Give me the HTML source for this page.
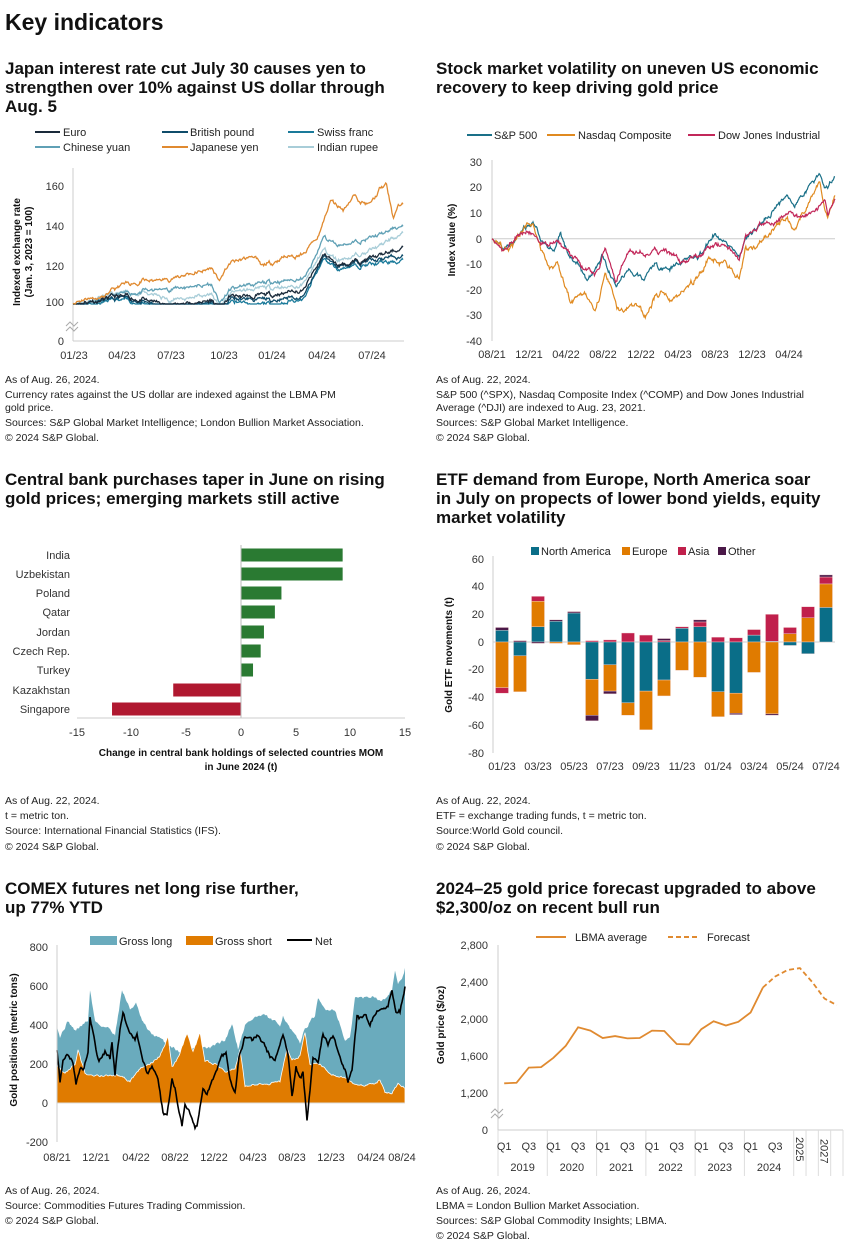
<!DOCTYPE html>
<html><head><meta charset="utf-8">
<style>
html,body{margin:0;padding:0;background:#fff;}
svg{display:block;font-family:"Liberation Sans",Arial,sans-serif;}
.t{font-size:17px;fill:#111;font-weight:600;}
.f{font-size:10.5px;fill:#222;}
.k{font-size:11px;fill:#333;}
.l{font-size:11px;fill:#222;}
.a{font-size:10px;fill:#111;font-weight:bold;}
</style></head><body>
<svg id="s" width="850" height="1254" viewBox="0 0 850 1254" xmlns="http://www.w3.org/2000/svg">
<text x="5" y="30" style="font-size:23px;font-weight:600;fill:#111">Key indicators</text>

<!-- Titles -->
<text class="t" x="5" y="74">Japan interest rate cut July 30 causes yen to</text>
<text class="t" x="5" y="93">strengthen over 10% against US dollar through</text>
<text class="t" x="5" y="112">Aug. 5</text>
<text class="t" x="436" y="74">Stock market volatility on uneven US economic</text>
<text class="t" x="436" y="93">recovery to keep driving gold price</text>
<text class="t" x="5" y="485">Central bank purchases taper in June on rising</text>
<text class="t" x="5" y="504">gold prices; emerging markets still active</text>
<text class="t" x="436" y="485">ETF demand from Europe, North America soar</text>
<text class="t" x="436" y="504">in July on propects of lower bond yields, equity</text>
<text class="t" x="436" y="523">market volatility</text>
<text class="t" x="5" y="894">COMEX futures net long rise further,</text>
<text class="t" x="5" y="913">up 77% YTD</text>
<text class="t" x="436" y="894">2024–25 gold price forecast upgraded to above</text>
<text class="t" x="436" y="913">$2,300/oz on recent bull run</text>

<!-- Footnotes -->
<g class="f">
<text x="5" y="383">As of Aug. 26, 2024.</text>
<text x="5" y="398">Currency rates against the US dollar are indexed against the LBMA PM</text>
<text x="5" y="411">gold price.</text>
<text x="5" y="426">Sources: S&amp;P Global Market Intelligence; London Bullion Market Association.</text>
<text x="5" y="441">© 2024 S&amp;P Global.</text>
<text x="436" y="383">As of Aug. 22, 2024.</text>
<text x="436" y="398">S&amp;P 500 (^SPX), Nasdaq Composite Index (^COMP) and Dow Jones Industrial</text>
<text x="436" y="411">Average (^DJI) are indexed to Aug. 23, 2021.</text>
<text x="436" y="426">Sources: S&amp;P Global Market Intelligence.</text>
<text x="436" y="441">© 2024 S&amp;P Global.</text>
<text x="5" y="804">As of Aug. 22, 2024.</text>
<text x="5" y="819">t = metric ton.</text>
<text x="5" y="834">Source: International Financial Statistics (IFS).</text>
<text x="5" y="850">© 2024 S&amp;P Global.</text>
<text x="436" y="804">As of Aug. 22, 2024.</text>
<text x="436" y="819">ETF = exchange trading funds, t = metric ton.</text>
<text x="436" y="834">Source:World Gold council.</text>
<text x="436" y="850">© 2024 S&amp;P Global.</text>
<text x="5" y="1194">As of Aug. 26, 2024.</text>
<text x="5" y="1209">Source: Commodities Futures Trading Commission.</text>
<text x="5" y="1224">© 2024 S&amp;P Global.</text>
<text x="436" y="1194">As of Aug. 26, 2024.</text>
<text x="436" y="1209">LBMA = London Bullion Market Association.</text>
<text x="436" y="1224">Sources: S&amp;P Global Commodity Insights; LBMA.</text>
<text x="436" y="1239">© 2024 S&amp;P Global.</text>
</g>

<!-- Panel 1 -->
<g class="l">
<line x1="35" y1="132" x2="60" y2="132" stroke="#1a2a3a" stroke-width="2"/><text x="63" y="136">Euro</text>
<line x1="162" y1="132" x2="188" y2="132" stroke="#0f4c6a" stroke-width="2"/><text x="190" y="136">British pound</text>
<line x1="288" y1="132" x2="314" y2="132" stroke="#1a7a9a" stroke-width="2"/><text x="317" y="136">Swiss franc</text>
<line x1="35" y1="147" x2="60" y2="147" stroke="#5fa0b5" stroke-width="2"/><text x="63" y="151">Chinese yuan</text>
<line x1="162" y1="147" x2="188" y2="147" stroke="#e08a30" stroke-width="2"/><text x="190" y="151">Japanese yen</text>
<line x1="288" y1="147" x2="314" y2="147" stroke="#a8cdd8" stroke-width="2"/><text x="317" y="151">Indian rupee</text>
</g>
<line x1="73" y1="168" x2="73" y2="341" stroke="#ccc"/>
<line x1="73" y1="341" x2="404" y2="341" stroke="#ccc"/>
<g class="k" text-anchor="end">
<text x="64" y="190">160</text><text x="64" y="230">140</text><text x="64" y="270">120</text><text x="64" y="306">100</text><text x="64" y="345">0</text>
</g>
<path d="M66 326 l4 -4 l4 4 l4 -4 M66 331 l4 -4 l4 4 l4 -4" stroke="#aaa" fill="none"/>
<g class="k" text-anchor="middle">
<text x="74" y="359">01/23</text><text x="122" y="359">04/23</text><text x="171" y="359">07/23</text><text x="224" y="359">10/23</text><text x="272" y="359">01/24</text><text x="322" y="359">04/24</text><text x="372" y="359">07/24</text>
</g>
<text class="a" transform="translate(20,252) rotate(-90)" text-anchor="middle">Indexed exchange rate</text>
<text class="a" transform="translate(32,252) rotate(-90)" text-anchor="middle">(Jan. 3, 2023 = 100)</text>
<g id="p1"></g>

<!-- Panel 2 -->
<g class="l">
<line x1="467" y1="135" x2="492" y2="135" stroke="#1a7088" stroke-width="2"/><text x="494" y="139">S&amp;P 500</text>
<line x1="547" y1="135" x2="575" y2="135" stroke="#e08a20" stroke-width="2"/><text x="578" y="139">Nasdaq Composite</text>
<line x1="688" y1="135" x2="715" y2="135" stroke="#c2285a" stroke-width="2"/><text x="718" y="139">Dow Jones Industrial</text>
</g>
<line x1="492" y1="160" x2="492" y2="341" stroke="#ccc"/>
<line x1="492" y1="238.7" x2="835" y2="238.7" stroke="#ccc"/>
<g class="k" text-anchor="end">
<text x="482" y="166">30</text><text x="482" y="191">20</text><text x="482" y="217">10</text><text x="482" y="243">0</text><text x="482" y="268">-10</text><text x="482" y="294">-20</text><text x="482" y="319">-30</text><text x="482" y="345">-40</text>
</g>
<g class="k" text-anchor="middle">
<text x="492" y="358">08/21</text><text x="529" y="358">12/21</text><text x="566" y="358">04/22</text><text x="603" y="358">08/22</text><text x="641" y="358">12/22</text><text x="678" y="358">04/23</text><text x="715" y="358">08/23</text><text x="752" y="358">12/23</text><text x="789" y="358">04/24</text>
</g>
<text class="a" transform="translate(455,240) rotate(-90)" text-anchor="middle">Index value (%)</text>
<g id="p2"></g>

<!-- Panel 3 -->
<g id="p3"></g>
<line x1="241" y1="545" x2="241" y2="718" stroke="#bbb"/>
<line x1="77" y1="718" x2="405" y2="718" stroke="#ccc"/>
<g class="k" text-anchor="end">
<text x="70" y="559">India</text><text x="70" y="578">Uzbekistan</text><text x="70" y="597">Poland</text><text x="70" y="616">Qatar</text><text x="70" y="636">Jordan</text><text x="70" y="655">Czech Rep.</text><text x="70" y="674">Turkey</text><text x="70" y="694">Kazakhstan</text><text x="70" y="713">Singapore</text>
</g>
<g class="k" text-anchor="middle">
<text x="77" y="736">-15</text><text x="131" y="736">-10</text><text x="186" y="736">-5</text><text x="241" y="736">0</text><text x="296" y="736">5</text><text x="350" y="736">10</text><text x="405" y="736">15</text>
</g>
<text class="a" x="241" y="756" text-anchor="middle">Change in central bank holdings of selected countries MOM</text>
<text class="a" x="241" y="770" text-anchor="middle">in June 2024 (t)</text>

<!-- Panel 4 -->
<g class="l">
<rect x="531" y="547" width="8" height="8" fill="#0a6e88"/><text x="541" y="555">North America</text>
<rect x="622" y="547" width="8" height="8" fill="#e07b00"/><text x="632" y="555">Europe</text>
<rect x="678" y="547" width="8" height="8" fill="#c0204c"/><text x="688" y="555">Asia</text>
<rect x="718" y="547" width="8" height="8" fill="#4a1848"/><text x="728" y="555">Other</text>
</g>
<line x1="493" y1="556" x2="493" y2="753" stroke="#ccc"/>
<line x1="493" y1="642" x2="835" y2="642" stroke="#ccc"/>
<g class="k" text-anchor="end">
<text x="484" y="563">60</text><text x="484" y="590">40</text><text x="484" y="618">20</text><text x="484" y="646">0</text><text x="484" y="673">-20</text><text x="484" y="701">-40</text><text x="484" y="729">-60</text><text x="484" y="757">-80</text>
</g>
<g id="p4"></g>
<text class="a" transform="translate(452,655) rotate(-90)" text-anchor="middle">Gold ETF movements (t)</text>

<!-- Panel 5 -->
<g class="l">
<rect x="90" y="936" width="27" height="9" fill="#6aabbd"/><text x="119" y="945">Gross long</text>
<rect x="186" y="936" width="27" height="9" fill="#e07b00"/><text x="215" y="945">Gross short</text>
<line x1="287" y1="940" x2="312" y2="940" stroke="#000" stroke-width="2"/><text x="315" y="945">Net</text>
</g>
<g id="p5"></g>
<line x1="57" y1="945" x2="57" y2="1142" stroke="#ccc"/>
<g class="k" text-anchor="end">
<text x="48" y="951">800</text><text x="48" y="990">600</text><text x="48" y="1029">400</text><text x="48" y="1068">200</text><text x="48" y="1107">0</text><text x="48" y="1146">-200</text>
</g>
<g class="k" text-anchor="middle">
<text x="57" y="1161">08/21</text><text x="96" y="1161">12/21</text><text x="136" y="1161">04/22</text><text x="175" y="1161">08/22</text><text x="214" y="1161">12/22</text><text x="253" y="1161">04/23</text><text x="292" y="1161">08/23</text><text x="331" y="1161">12/23</text><text x="371" y="1161">04/24</text><text x="402" y="1161">08/24</text>
</g>
<text class="a" transform="translate(17,1040) rotate(-90)" text-anchor="middle">Gold positions (metric tons)</text>

<!-- Panel 6 -->
<g class="l">
<line x1="536" y1="937" x2="566" y2="937" stroke="#e08a30" stroke-width="2"/><text x="575" y="941">LBMA average</text>
<line x1="668" y1="937" x2="700" y2="937" stroke="#e08a30" stroke-width="2" stroke-dasharray="5,3"/><text x="707" y="941">Forecast</text>
</g>
<line x1="498" y1="945" x2="498" y2="1130" stroke="#ccc"/>
<line x1="498" y1="1130" x2="843" y2="1130" stroke="#ccc"/>
<path d="M491 1113 l4 -4 l4 4 l4 -4 M491 1118 l4 -4 l4 4 l4 -4" stroke="#aaa" fill="none"/>
<g class="k" text-anchor="end">
<text x="488" y="949">2,800</text><text x="488" y="986">2,400</text><text x="488" y="1023">2,000</text><text x="488" y="1060">1,600</text><text x="488" y="1097">1,200</text><text x="488" y="1134">0</text>
</g>
<g id="p6"></g>
<text class="a" transform="translate(444,1025) rotate(-90)" text-anchor="middle">Gold price ($/oz)</text>
</svg>
<script>
var NS="http://www.w3.org/2000/svg";
function el(g,tag,at,txt){var e=document.createElementNS(NS,tag);for(var k in at)e.setAttribute(k,at[k]);if(txt!==undefined)e.textContent=txt;document.getElementById(g).appendChild(e);return e;}
function rng(s){return function(){s=(s*16807)%2147483647;return (s-1)/2147483646;}}
function interp(kp,t){if(t<=kp[0][0])return kp[0][1];for(var i=1;i<kp.length;i++){if(t<=kp[i][0]){var a=kp[i-1],b=kp[i];return a[1]+(b[1]-a[1])*(t-a[0])/(b[0]-a[0]);}}return kp[kp.length-1][1];}
function noise(n,amp,seed,dec){var r=rng(seed),e=0,o=[];for(var i=0;i<n;i++){e=dec*e+(r()-0.5)*amp;o.push(e);}return o;}
function pathFrom(xs,ys){var d="";for(var i=0;i<xs.length;i++)d+=(i?"L":"M")+xs[i].toFixed(1)+" "+ys[i].toFixed(1);return d;}

// Panel 1
(function(){
var x0=73,x1=403,N=420,com=noise(N,2.2,11,0.8);
var ym=function(v){return v>=100?304-(v-100)*1.97:304;};
var S=[
["#a8cdd8",5,[[0,100],[0.15,106],[0.25,104],[0.3,102],[0.42,105],[0.445,98],[0.48,106],[0.6,108],[0.7,110],[0.76,128],[0.8,122],[0.9,127],[1,136]]],
["#5fa0b5",6,[[0,100],[0.1,103],[0.15,105],[0.3,108],[0.42,110],[0.445,100],[0.48,108],[0.55,110],[0.7,113],[0.72,118],[0.76,134],[0.8,130],[0.9,133],[0.97,138],[1,139]]],
["#1a7a9a",7,[[0,99],[0.15,102],[0.3,96],[0.42,100],[0.445,95],[0.48,101],[0.6,99],[0.7,103],[0.76,123],[0.8,118],[0.9,120],[1,122]]],
["#0f4c6a",8,[[0,100],[0.15,103],[0.3,97],[0.42,101],[0.445,96],[0.48,103],[0.6,102],[0.7,104],[0.76,124],[0.8,119],[0.9,122],[1,124]]],
["#1a2a3a",9,[[0,100],[0.15,104],[0.3,99],[0.42,102],[0.445,97],[0.48,104],[0.55,104],[0.7,107],[0.76,125],[0.8,120],[0.9,123],[1,128]]],
["#e08a30",10,[[0,101],[0.1,104],[0.15,110],[0.3,113],[0.42,118],[0.445,112],[0.48,122],[0.55,124],[0.57,119],[0.65,124],[0.7,125],[0.72,130],[0.74,133],[0.76,142],[0.78,152],[0.82,148],[0.85,155],[0.9,150],[0.93,158],[0.95,160],[0.96,152],[0.97,143],[0.985,151],[1,150]]]];
S.forEach(function(s){var nz=noise(N,1.5,s[1]*7+3,0.75),xs=[],ys=[];for(var i=0;i<N;i++){var t=i/(N-1);xs.push(x0+t*(x1-x0));ys.push(ym(interp(s[2],t)+com[i]*0.6+nz[i]*0.5));}
el("p1","path",{d:pathFrom(xs,ys),fill:"none",stroke:s[0],"stroke-width":1.3});});
})();

// Panel 2
(function(){
var x0=492,x1=835,N=520,com=noise(N,2,21,0.85);
var ym=function(v){return 238.7-v*2.557;};
var S=[
["#1a7088",3,[[0,0],[0.03,-3],[0.06,-2],[0.1,5],[0.12,6],[0.14,0],[0.18,-5],[0.2,2],[0.22,-5],[0.26,-12],[0.28,-16],[0.3,-12],[0.32,-7],[0.36,-19],[0.4,-12],[0.44,-15],[0.48,-10],[0.52,-12],[0.56,-8],[0.6,-7],[0.63,-2],[0.65,2],[0.68,-2],[0.7,-3],[0.72,-7],[0.74,0],[0.78,5],[0.82,12],[0.86,17],[0.88,12],[0.92,20],[0.955,25],[0.97,18],[1,25]]],
["#e08a20",4,[[0,0],[0.03,-3],[0.06,-3],[0.1,6],[0.12,5],[0.14,-3],[0.17,-12],[0.19,-10],[0.23,-25],[0.27,-20],[0.3,-28],[0.33,-14],[0.37,-28],[0.42,-25],[0.45,-30],[0.49,-20],[0.52,-24],[0.56,-20],[0.6,-15],[0.63,-7],[0.68,-10],[0.72,-15],[0.74,-5],[0.78,-2],[0.82,5],[0.86,8],[0.88,3],[0.92,13],[0.955,23],[0.97,10],[0.98,8],[1,19]]],
["#c2285a",5,[[0,0],[0.03,-4],[0.06,-1],[0.1,3],[0.12,2],[0.14,-2],[0.2,-2],[0.26,-10],[0.3,-14],[0.33,-5],[0.36,-17],[0.4,-4],[0.45,-6],[0.5,-4],[0.55,-9],[0.6,-7],[0.63,-3],[0.66,-2],[0.7,-4],[0.72,-8],[0.74,0],[0.78,6],[0.82,7],[0.86,10],[0.9,8],[0.94,11],[0.97,14],[0.98,9],[1,16]]]];
S.forEach(function(s,k){var nz=noise(N,1.6,s[1]*13+5,0.7),xs=[],ys=[];for(var i=0;i<N;i++){var t=i/(N-1);var amp=(k==1?1.2:1);xs.push(x0+t*(x1-x0));ys.push(ym(interp(s[2],t)+(com[i]*0.5+nz[i]*0.6)*amp*(i<3?0:1)));}
el("p2","path",{d:pathFrom(xs,ys),fill:"none",stroke:s[0],"stroke-width":1.2});});
})();

// Panel 3
(function(){
var v=[9.3,9.3,3.7,3.1,2.1,1.8,1.1,-6.2,-11.8],c=[555,574,593,612,632,651,670,690,709];
v.forEach(function(a,i){var x=241+Math.min(a,0)*10.93,w=Math.abs(a)*10.93;el("p3","rect",{x:x,y:c[i]-6.5,width:w,height:13,fill:a>0?"#2a7a32":"#b01830"});});
})();

// Panel 4
(function(){
var C={N:"#0a6e88",E:"#e07b00",A:"#c0204c",O:"#4a1848"};
var D=[
[[["N",8.5],["O",2]],[["E",33],["A",4]]],
[[["O",1]],[["N",10],["E",26]]],
[[["N",11],["E",18.5],["A",3.5]],[["O",1]]],
[[["N",15],["O",1]],[["E",1]]],
[[["N",21],["O",1]],[["E",2]]],
[[["A",1]],[["N",27],["E",26],["O",4]]],
[[["A",1.5]],[["N",16.5],["E",19],["O",2]]],
[[["A",6.5]],[["N",44],["E",9]]],
[[["A",5]],[["N",35.5],["E",28]]],
[[["A",1],["O",1.5]],[["N",27.5],["E",11.5]]],
[[["N",10],["A",1]],[["E",20.5]]],
[[["N",11],["A",3.5],["O",1.5]],[["E",25.5]]],
[[["A",3.5]],[["N",36],["E",18]]],
[[["A",3]],[["N",37],["E",14.5],["O",1]]],
[[["N",5],["A",4]],[["E",22]]],
[[["N",0.5],["A",19.5]],[["E",52],["O",1]]],
[[["E",6],["A",4.5]],[["N",2.5]]],
[[["E",17.5],["A",8]],[["N",8.5]]],
[[["N",25],["E",17],["A",5],["O",1.5]],[]]];
var s=1.383,bw=(835-493)/19;
D.forEach(function(b,i){var cx=493+bw*(i+0.5),y=642;
b[0].forEach(function(p){var h=p[1]*s;y-=h;el("p4","rect",{x:cx-6.5,y:y,width:13,height:h,fill:C[p[0]],stroke:"#f3d6d6","stroke-width":0.4});});
y=642;b[1].forEach(function(p){var h=p[1]*s;el("p4","rect",{x:cx-6.5,y:y,width:13,height:h,fill:C[p[0]],stroke:"#f3d6d6","stroke-width":0.4});y+=h;});
if(i%2==0)el("p4","text",{x:cx,y:770,"text-anchor":"middle","class":"k"},["01/23","03/23","05/23","07/23","09/23","11/23","01/24","03/24","05/24","07/24"][i/2]);});
})();

// Panel 5
(function(){
var L=[[57,400],[60,340],[68,420],[75,370],[82,400],[88,420],[90,580],[95,420],[100,400],[110,380],[115,350],[122,580],[130,480],[136,510],[142,420],[150,360],[160,330],[168,300],[175,280],[180,260],[185,240],[190,280],[200,290],[210,280],[215,300],[225,320],[232,410],[238,280],[245,400],[255,440],[265,450],[270,430],[280,400],[283,450],[290,380],[300,310],[305,380],[315,450],[318,530],[325,480],[335,480],[345,320],[350,330],[355,540],[365,540],[375,550],[380,520],[385,540],[392,580],[395,680],[398,600],[402,640],[405,690]];
var Sh=[[57,200],[65,150],[75,200],[78,270],[85,150],[95,140],[100,140],[115,140],[120,140],[130,110],[140,180],[150,200],[160,240],[168,340],[172,180],[178,230],[187,360],[193,260],[200,360],[205,220],[215,200],[225,160],[235,180],[240,270],[245,90],[260,100],[270,100],[280,110],[287,280],[292,220],[300,240],[305,360],[310,200],[320,200],[330,150],[345,130],[355,100],[365,90],[375,100],[380,120],[385,50],[392,50],[398,100],[405,80]];
var Nt=[[57,280],[60,110],[63,220],[68,250],[73,210],[76,100],[80,170],[84,180],[88,270],[90,440],[95,300],[99,210],[105,260],[110,230],[112,310],[115,150],[120,380],[123,460],[128,380],[135,330],[137,360],[142,230],[147,150],[152,180],[158,120],[163,-50],[167,-60],[172,120],[175,80],[182,-120],[185,-20],[188,-30],[195,-130],[197,-120],[203,70],[207,50],[215,150],[222,240],[226,260],[230,130],[235,50],[239,230],[245,340],[252,320],[258,350],[265,290],[270,240],[275,220],[283,360],[288,250],[292,30],[296,180],[300,130],[303,150],[307,-80],[313,230],[318,210],[323,360],[328,300],[333,340],[340,240],[345,170],[348,110],[352,170],[357,440],[362,430],[365,460],[370,400],[375,460],[380,480],[388,500],[392,570],[396,470],[400,470],[405,600]];
var ym=function(v){return 1103-v*0.195;};
var n1=noise(400,14,31,0.5),n2=noise(400,10,32,0.5),n3=noise(400,18,33,0.4);
var xs=[],lt=[],st=[],nt=[];
for(var x=57,i=0;x<=405;x+=1,i++){xs.push(x);lt.push(ym(interp(L,x)+n1[i]));st.push(ym(Math.max(20,interp(Sh,x)+n2[i])));nt.push(ym(interp(Nt,x)+n3[i]));}
var lp="M57 1103"+pathFrom(xs,lt).replace("M","L")+"L405 1103Z";
el("p5","path",{d:lp,fill:"#6aabbd"});
var sp="M57 1103"+pathFrom(xs,st).replace("M","L")+"L405 1103Z";
el("p5","path",{d:sp,fill:"#e07b00",stroke:"#fff","stroke-width":0.8});
el("p5","line",{x1:57,y1:1103,x2:405,y2:1103,stroke:"#ddd"});
el("p5","path",{d:pathFrom(xs,nt),fill:"none",stroke:"#000","stroke-width":1.6});
})();

// Panel 6
(function(){
var w=345/28,cx=function(i){return 498+w*(i+0.5);},ym=function(v){return 1093-(v-1200)*0.0925;};
var v=[1305,1310,1475,1480,1580,1710,1910,1875,1795,1815,1790,1795,1875,1870,1730,1725,1890,1975,1930,1970,2070,2340];
var xs=[],ys=[];v.forEach(function(a,i){xs.push(cx(i));ys.push(ym(a));});
el("p6","path",{d:pathFrom(xs,ys),fill:"none",stroke:"#e08a30","stroke-width":1.8});
var f=[[21,2340],[22,2460],[23,2530],[24,2550],[25,2400],[26,2220],[27,2150]];
el("p6","path",{d:pathFrom(f.map(function(p){return cx(p[0]);}),f.map(function(p){return ym(p[1]);})),fill:"none",stroke:"#e08a30","stroke-width":1.8,"stroke-dasharray":"5,3"});
var b=[0,4,8,12,16,20,24,25,26,27,28];
b.forEach(function(i){var x=498+w*i;el("p6","line",{x1:x,y1:1130,x2:x,y2:1176,stroke:"#ddd"});});
for(var y=0;y<6;y++){var yr=2019+y;el("p6","text",{x:cx(4*y),y:1150,"text-anchor":"middle","class":"k"},"Q1");el("p6","text",{x:cx(4*y+2),y:1150,"text-anchor":"middle","class":"k"},"Q3");el("p6","text",{x:498+w*(4*y+2),y:1171,"text-anchor":"middle","class":"k"},String(yr));}
el("p6","text",{"class":"k",transform:"translate("+(cx(24)-4)+",1137) rotate(90)"},"2025");
el("p6","text",{"class":"k",transform:"translate("+(cx(26)-4)+",1139) rotate(90)"},"2027");
})();
</script>
</body></html>
